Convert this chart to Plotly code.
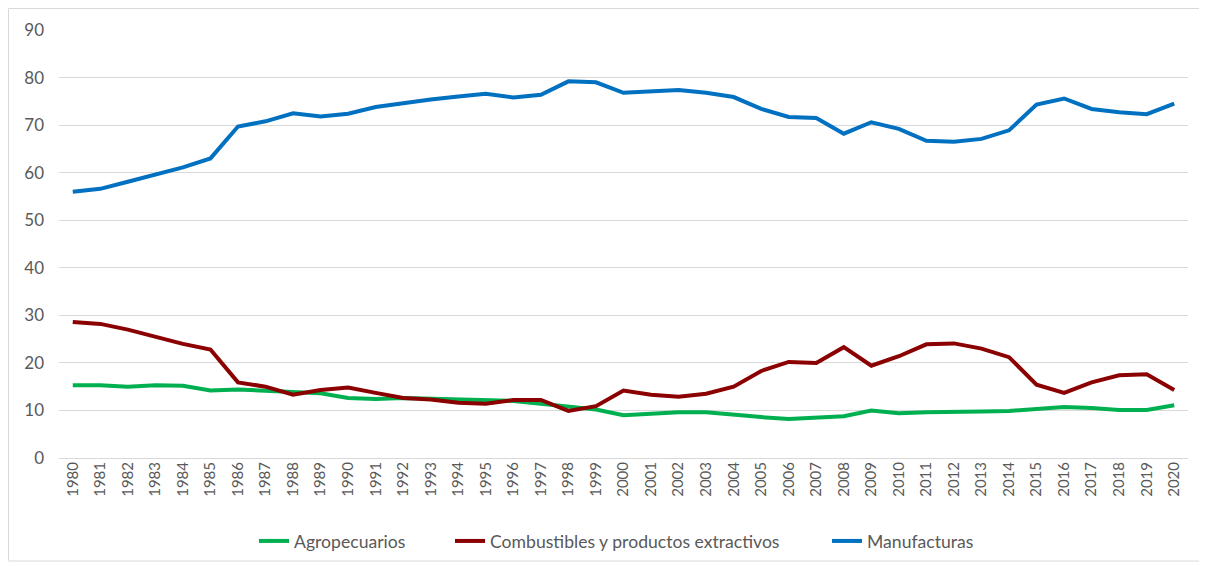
import plotly.graph_objects as go

years = [str(y) for y in range(1980, 2021)]

agropecuarios = [15.3, 15.3, 15.0, 15.3, 15.2, 14.2, 14.4, 14.1, 14.0, 13.6,
                 12.6, 12.4, 12.6, 12.4, 12.4, 12.2, 12.0, 11.4, 10.9, 10.2,
                 9.0, 9.4, 9.6, 9.6, 9.0, 8.6, 8.2, 8.6, 8.8, 10.0,
                 9.4, 9.6, 9.6, 9.8, 9.9, 10.3, 10.7, 10.5, 10.1, 10.1, 11.1]

combustibles = [28.6, 28.2, 27.0, 25.5, 24.0, 22.8, 15.9, 15.0, 13.3, 14.3,
                14.8, 13.7, 12.6, 12.3, 11.6, 11.4, 12.2, 12.2, 9.9, 10.9,
                14.2, 13.3, 12.9, 13.5, 15.0, 18.3, 20.2, 20.0, 23.3, 19.4,
                21.4, 23.9, 24.1, 23.0, 21.2, 15.4, 13.7, 15.9, 17.4, 17.6, 14.3]

manufacturas = [56.0, 56.6, 58.1, 59.6, 61.1, 63.0, 69.7, 70.8, 72.5, 71.8,
                72.4, 73.8, 74.7, 75.4, 76.0, 76.6, 75.8, 76.4, 79.2, 79.0,
                76.8, 77.2, 77.4, 76.8, 75.9, 73.4, 71.7, 71.5, 68.2, 70.6,
                69.2, 66.7, 66.5, 67.1, 68.9, 74.3, 75.6, 73.4, 72.7, 72.3, 74.5]

y_ticks = [0, 10, 20, 30, 40, 50, 60, 70, 80, 90]

series = [
    ("Agropecuarios", agropecuarios, "#00b050"),
    ("Combustibles y productos extractivos", combustibles, "#8b0000"),
    ("Manufacturas", manufacturas, "#0070c0"),
]
legend_ids = ["legend", "legend2", "legend3"]
legend_left_px = [249, 445, 822]  # left edge of each legend entry (figure px)

fig = go.Figure()
for (name, vals, color), lid in zip(series, legend_ids):
    fig.add_trace(go.Scatter(x=years, y=vals, name=name, mode="lines", legend=lid,
                             line=dict(color=color, width=4)))

# page has an 8px body margin, so the figure is drawn 8px in from the window edge
W, H = 1199, 558
ml, mr, mt, mb = 51, 19, 22, 108
pw, ph = W - ml - mr, H - mt - mb

legend_common = dict(orientation="h", xanchor="left", y=-83 / ph, yanchor="middle",
                     font=dict(size=17.6, color="#595959"), bgcolor="rgba(0,0,0,0)")
legends = {}
for lid, px in zip(legend_ids, legend_left_px):
    legends[lid] = dict(legend_common, x=(px - 3 - ml) / pw)

fig.update_layout(
    width=W, height=H,
    margin=dict(l=ml, r=mr, t=mt, b=mb, autoexpand=False),
    paper_bgcolor="white", plot_bgcolor="white",
    font=dict(family="Lato, Open Sans, sans-serif", color="#595959", size=15),
    showlegend=True,
    xaxis=dict(type="category", tickangle=-90, showgrid=False, showline=False,
               ticks="", tickfont=dict(size=15, color="#595959"), automargin=False,
               range=[-0.5, len(years) - 0.5]),
    yaxis=dict(range=[0, 90], tickvals=y_ticks, showgrid=True, gridcolor="#d9d9d9",
               gridwidth=1.3, zeroline=True, zerolinecolor="#d9d9d9", zerolinewidth=1.3,
               showline=False, ticks="", tickfont=dict(size=17, color="#595959"),
               ticklabelstandoff=14, automargin=False),
    **legends,
)

# outer chart border
x0 = (0.5 - ml) / pw
x1 = (1193 - ml) / pw
y0 = (H - mb - 553) / ph
y1 = (H - mb - 0.5) / ph
fig.add_shape(type="rect", xref="paper", yref="paper", x0=x0, x1=x1, y0=y0, y1=y1,
              line=dict(color="#d9d9d9", width=1), layer="below")

fig.write_html("out.html")
